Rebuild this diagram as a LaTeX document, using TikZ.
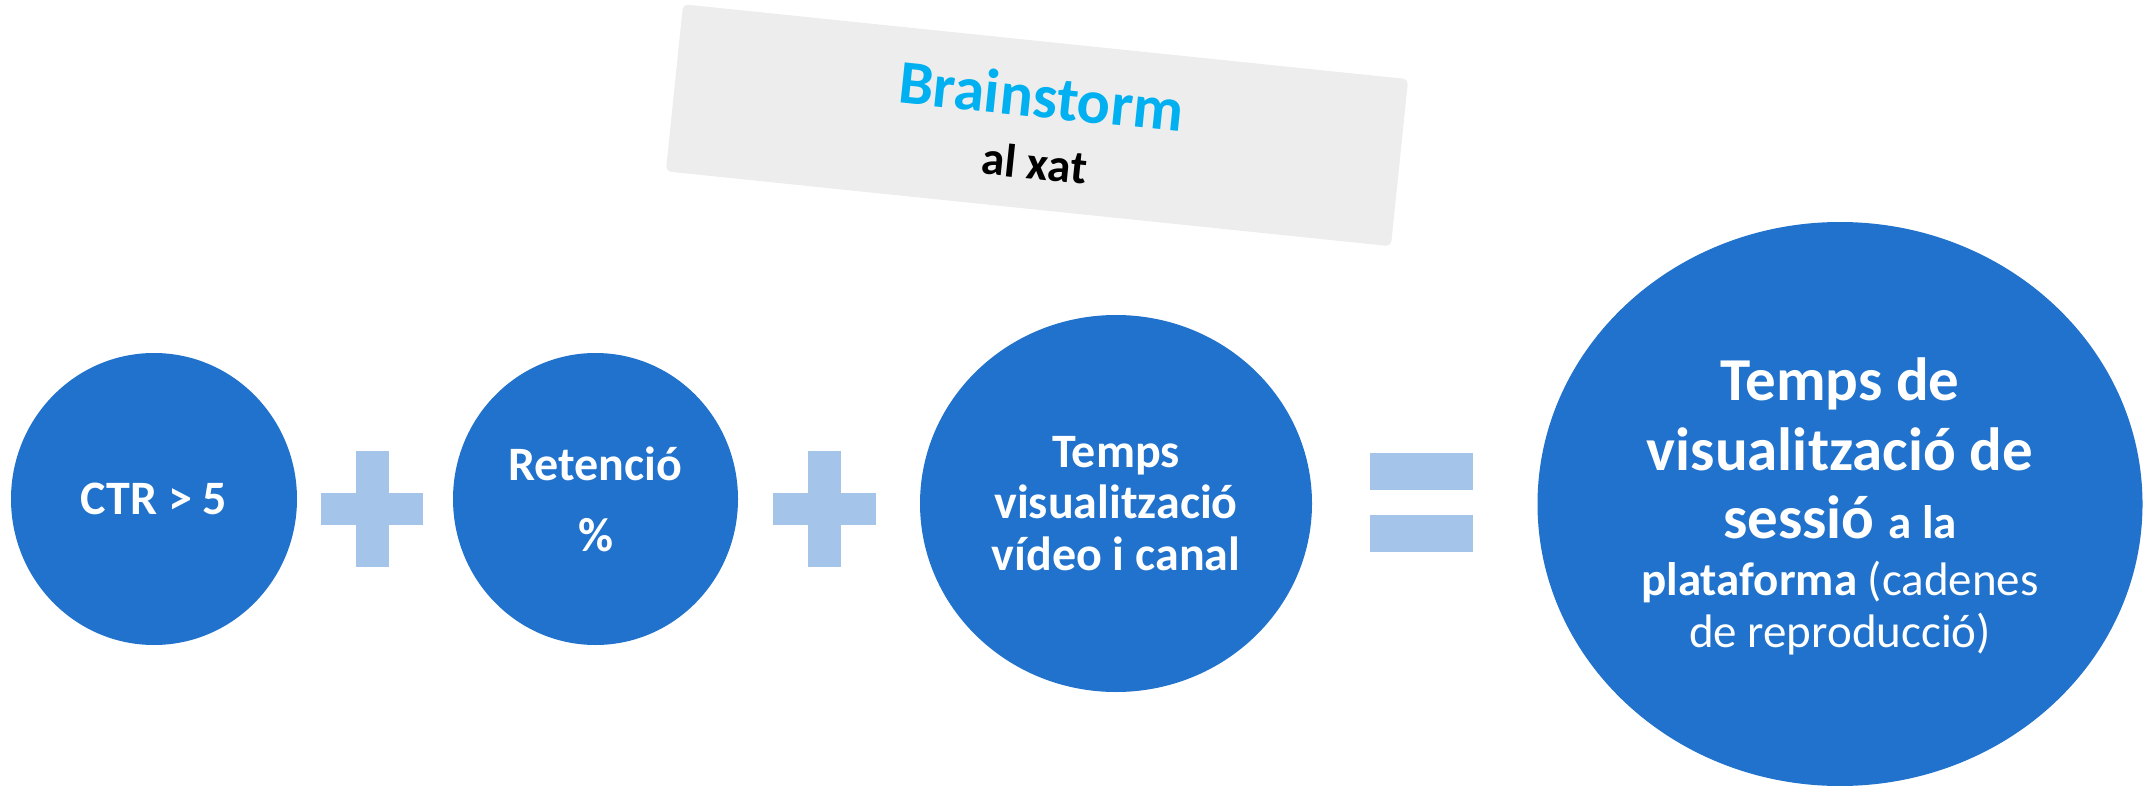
\documentclass[tikz,border=0pt]{standalone}
\usepackage{fontspec}
\setmainfont{Carlito}
\usetikzlibrary{shapes.geometric}
\definecolor{cblue}{HTML}{2072CC}
\definecolor{plusblue}{HTML}{A4C4E9}
\definecolor{boxgray}{HTML}{EDEDED}
\definecolor{bcyan}{HTML}{00B0F0}
\begin{document}
\begin{tikzpicture}[x=0.5pt,y=-0.5pt,
  bubble/.style={ellipse,fill=cblue,inner sep=0pt,text=white,align=center,
    font=\bfseries\fontsize{24}{26}\selectfont},
  opsign/.style={fill=plusblue},
  bigline/.style={anchor=base,inner sep=0pt,text=white,font=\bfseries\fontsize{30.5}{32}\selectfont},
  smallline/.style={anchor=base,inner sep=0pt,text=white,font=\fontsize{23.5}{25}\selectfont}]
\useasboundingbox (0,0) rectangle (2156,786);

% brainstorm box
\node[rotate=-5.9,fill=boxgray,rounded corners=2.5pt,minimum width=364.5pt,minimum height=84pt,inner sep=0pt] (box) at (1037,125.25) {};
\node[rotate=-5.9,inner sep=0pt,align=center,text=black,font=\bfseries\fontsize{23.5}{31}\selectfont] (bs) at (1038.2,126.8)
  {\textcolor{bcyan}{\fontsize{31}{31}\selectfont Brainstorm}\\al xat};

% circles
\node[bubble,minimum width=143pt,minimum height=146pt] (c1) at (154,499) {CTR > 5};
\node[bubble,minimum width=142.5pt,minimum height=146pt,font=\bfseries\fontsize{24}{35.5}\selectfont] (c2) at (595.5,499) {Retenció\\\%};
\node[bubble,minimum width=196pt,minimum height=188.5pt,font=\bfseries\fontsize{24}{25.75}\selectfont] (c3) at (1116,503.5) {Temps\\visualització\\vídeo i canal};
\node[bubble,minimum width=302.5pt,minimum height=282pt] (c4) at (1840,504) {};

\node[bigline] (l1) at (1840,400) {Temps de};
\node[bigline] (l2) at (1840,470) {visualització de};
\node[bigline] (l3) at (1840,538) {sessió {\fontsize{23.5}{25}\selectfont a la}};
\node[smallline] (l4) at (1840,595) {\textbf{plataforma} (cadenes};
\node[smallline] (l5) at (1840,647) {de reproducció)};

% plus signs
\fill[opsign] (356,451) rectangle (389,567);
\fill[opsign] (321,493) rectangle (423,525);
\fill[opsign] (808,451) rectangle (841,567);
\fill[opsign] (773,493) rectangle (876,525);
% equals
\fill[opsign] (1370,453) rectangle (1473,490);
\fill[opsign] (1370,515) rectangle (1473,552);
\end{tikzpicture}
\end{document}
